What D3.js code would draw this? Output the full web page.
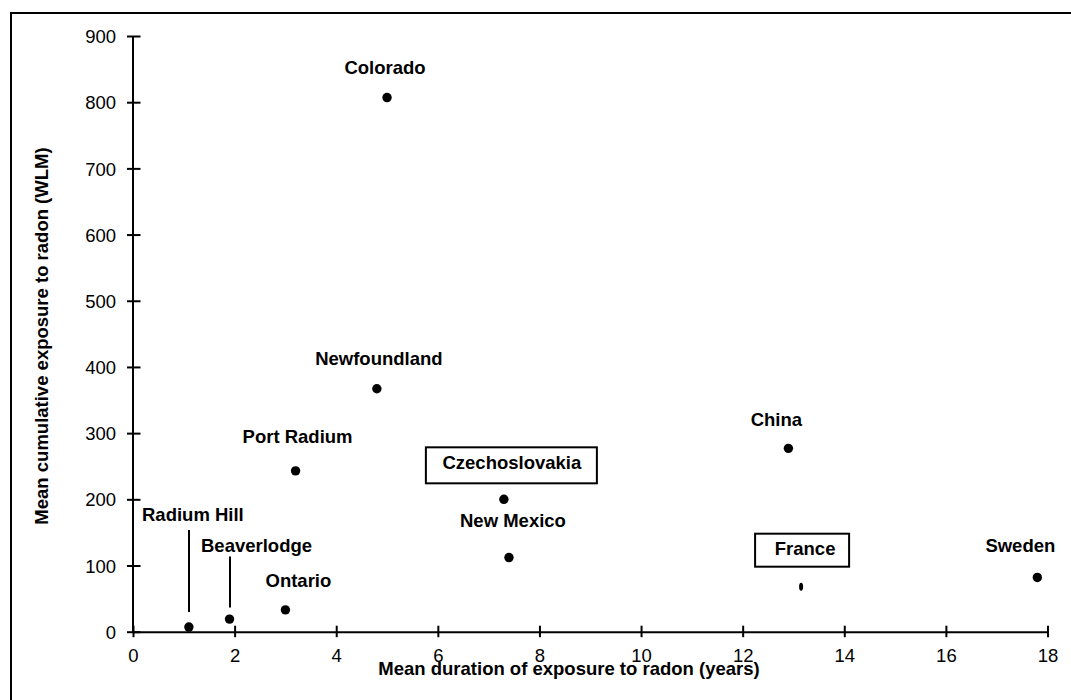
<!DOCTYPE html>
<html>
<head>
<meta charset="utf-8">
<script src="https://d3js.org/d3.v7.min.js"></script>
<style>
body { margin: 0; background: #fff; }
text { font-family: Arial, "Liberation Sans", sans-serif; fill: #000; }
.lab { font-weight: bold; font-size: 18.5px; text-anchor: middle; }
.tick text { font-size: 18.5px; }
</style>
</head>
<body>
<script>
// mining cohorts: mean duration (years) vs mean cumulative exposure (WLM)
var sites = ["Colorado", "Newfoundland", "Port Radium", "Czechoslovakia", "New Mexico",
             "Ontario", "Beaverlodge", "Radium Hill", "China", "France", "Sweden"]
var duration = [5.0, 4.8, 3.2, 7.3, 7.4, 3.0, 1.9, 1.1, 12.9, 13.15, 17.8]
var exposure = [807, 367, 243, 200, 112, 33, 19, 7, 277, 68, 82]
var xTicks = [0, 2, 4, 6, 8, 10, 12, 14, 16, 18]
var yTicks = [0, 100, 200, 300, 400, 500, 600, 700, 800, 900]

// label placement (pixels relative to the point)
var labelDx = [-2, 2, 2, 8, 4, 13, 27, 4, -12, 4, -17]
var labelDy = [-24, -24, -28, -30, -31, -23, -67, -106, -22, -32, -25]

var w = 1071, h = 700

var svg = d3.select("body")
            .append("svg")
            .attr("width", w)
            .attr("height", h)

svg.append("rect")
   .attr("x", 11).attr("y", 13)
   .attr("width", 1100).attr("height", 720)
   .attr("fill", "none")
   .attr("stroke", "#000")
   .attr("stroke-width", 2)

var xScale = d3.scaleLinear().domain([0, 18]).range([133, 1047.5])
var yScale = d3.scaleLinear().domain([0, 900]).range([631.7, 36])

var xAxis = d3.axisBottom(xScale).tickValues(xTicks).tickSizeInner(0).tickSizeOuter(0).tickPadding(0)
var yAxis = d3.axisLeft(yScale).tickValues(yTicks).tickSizeInner(0).tickSizeOuter(0).tickPadding(0)

var gx = svg.append("g").attr("class", "axis").attr("transform", "translate(0," + yScale(0) + ")").call(xAxis)
var gy = svg.append("g").attr("class", "axis").attr("transform", "translate(" + xScale(0) + ",0)").call(yAxis)

gx.select(".domain").attr("stroke", "#000").attr("stroke-width", 2)
gy.select(".domain").attr("stroke", "#000").attr("stroke-width", 2)
  .attr("d", "M0," + yScale(900) + "V" + (yScale(0) + 1))

// ticks cross the axis lines
gx.selectAll(".tick line").attr("y1", -6).attr("y2", 5.5).attr("stroke", "#000").attr("stroke-width", 2)
gy.selectAll(".tick line").attr("x1", -6).attr("x2", 7.5).attr("stroke", "#000").attr("stroke-width", 2)
gx.selectAll(".tick text").attr("y", 30).attr("dy", 0).attr("font-family", null).attr("font-size", null)
gy.selectAll(".tick text").attr("x", -17).attr("dy", "0.36em").attr("font-family", null).attr("font-size", null)

svg.append("text")
   .attr("class", "lab")
   .attr("x", 569).attr("y", 675)
   .text("Mean duration of exposure to radon (years)")

svg.append("text")
   .attr("class", "lab")
   .attr("transform", "translate(48," + 336 + ") rotate(-90)")
   .text("Mean cumulative exposure to radon (WLM)")

var data = sites.map(function(s, i){
    return {name: s, x: duration[i], y: exposure[i], dx: labelDx[i], dy: labelDy[i]}
})

// points (France is a tiny mark)
svg.selectAll("ellipse.pt")
   .data(data)
   .enter()
   .append("ellipse")
   .attr("class", "pt")
   .attr("cx", function(d){ return xScale(d.x) })
   .attr("cy", function(d){ return yScale(d.y) })
   .attr("rx", function(d){ return d.name == "France" ? 2 : 4.7 })
   .attr("ry", function(d){ return d.name == "France" ? 4 : 4.7 })
   .attr("fill", "#000")

// boxed labels
var boxes = {"Czechoslovakia": [-86, -22, 171, 36], "France": [-50, -21, 94, 33]}
data.forEach(function(d){
    if (boxes[d.name]) {
        var b = boxes[d.name]
        svg.append("rect")
           .attr("x", xScale(d.x) + d.dx + b[0])
           .attr("y", yScale(d.y) + d.dy + b[1])
           .attr("width", b[2]).attr("height", b[3])
           .attr("fill", "#fff")
           .attr("stroke", "#000")
           .attr("stroke-width", 2)
    }
})

svg.selectAll("text.site")
   .data(data)
   .enter()
   .append("text")
   .attr("class", "lab site")
   .attr("x", function(d){ return xScale(d.x) + d.dx })
   .attr("y", function(d){ return yScale(d.y) + d.dy })
   .text(function(d){ return d.name })

// leader lines for the two crowded labels
var leaders = {"Radium Hill": [-97, -15], "Beaverlodge": [-62.5, -11.5]}
data.forEach(function(d){
    if (leaders[d.name]) {
        var px = Math.round(xScale(d.x))
        svg.append("line")
           .attr("x1", px).attr("x2", px)
           .attr("y1", yScale(d.y) + leaders[d.name][0])
           .attr("y2", yScale(d.y) + leaders[d.name][1])
           .attr("stroke", "#000")
           .attr("stroke-width", 2)
    }
})
</script>
</body>
</html>
